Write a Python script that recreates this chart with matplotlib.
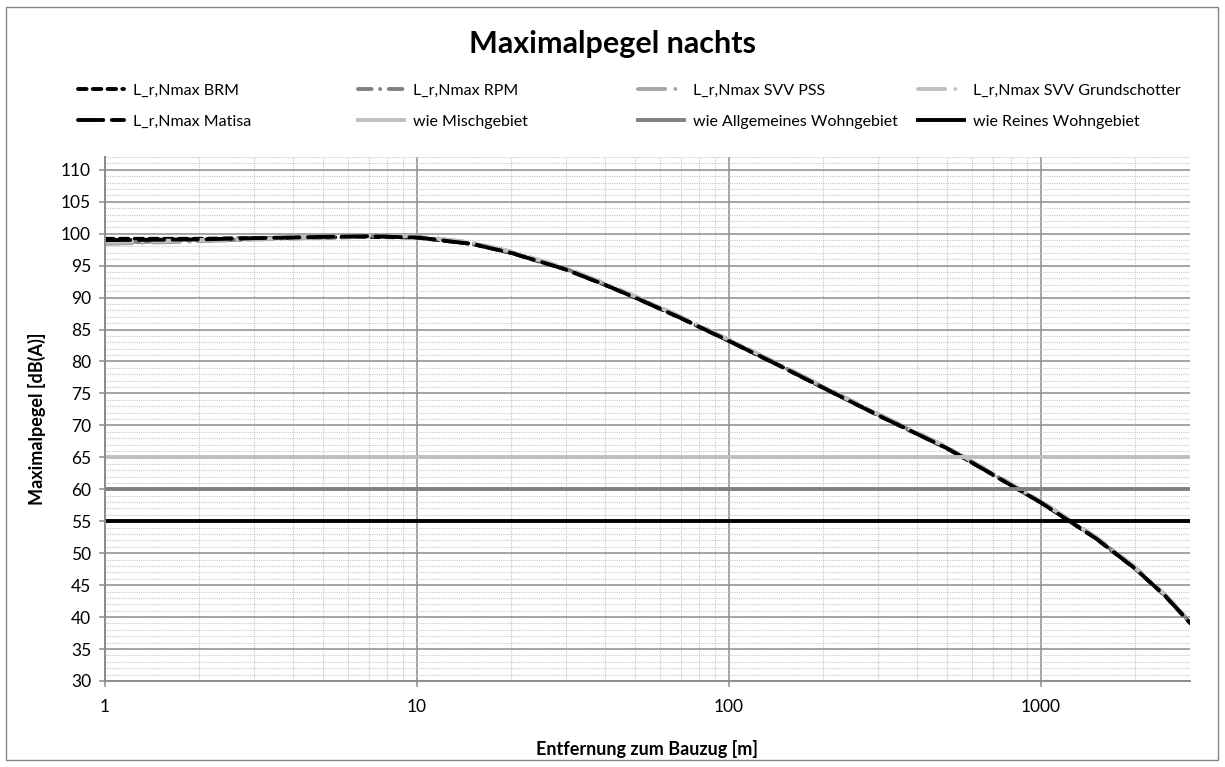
import matplotlib
matplotlib.use("Agg")
import matplotlib.pyplot as plt
from matplotlib.patches import Rectangle
from matplotlib.ticker import FixedLocator, NullFormatter, LogLocator

plt.rcParams['font.family'] = ['Lato', 'DejaVu Sans']

# distance to the construction train [m]
distance = [1, 2, 3, 5, 7, 10, 15, 20, 30, 40, 50, 70, 100, 150, 200,
            300, 500, 700, 1000, 1500, 2000, 2500, 3000]

# maximum levels [dB(A)] per machine
lr_brm = [99.2, 99.2, 99.3, 99.4, 99.5, 99.4, 98.4, 97.0, 94.4, 92.0, 90.0, 86.8, 83.2,
          79.0, 75.9, 71.6, 66.4, 62.3, 57.9, 52.3, 47.6, 43.3, 39.1]
lr_rpm = [98.6, 98.9, 99.1, 99.4, 99.6, 99.5, 98.5, 97.1, 94.5, 92.1, 90.1, 86.9, 83.3,
          79.1, 76.0, 71.7, 66.5, 62.4, 58.0, 52.4, 47.7, 43.4, 39.2]
lr_svv_pss = [98.4, 98.8, 99.1, 99.4, 99.6, 99.6, 98.6, 97.2, 94.6, 92.2, 90.2, 87.0, 83.4,
              79.2, 76.1, 71.8, 66.6, 62.5, 58.1, 52.5, 47.8, 43.5, 39.3]
lr_svv_grund = [98.7, 99.0, 99.2, 99.5, 99.7, 99.6, 98.6, 97.2, 94.6, 92.2, 90.2, 87.0, 83.4,
                79.2, 76.1, 71.8, 66.6, 62.5, 58.1, 52.5, 47.8, 43.5, 39.3]
lr_matisa = [99.0, 99.1, 99.3, 99.5, 99.6, 99.4, 98.4, 97.0, 94.4, 92.0, 90.0, 86.8, 83.2,
             79.0, 75.9, 71.6, 66.4, 62.3, 57.9, 52.3, 47.6, 43.3, 39.1]

# limit values
limit_labels = ['wie Mischgebiet', 'wie Allgemeines Wohngebiet', 'wie Reines Wohngebiet']
limit_values = [65, 60, 55]

x_range = [1, 3000]
y_ticks = list(range(30, 111, 5))

fig = plt.figure(figsize=(12.25, 7.67), dpi=100)
W, H = 1225, 767
ax = fig.add_axes([105 / W, 1 - 681 / H, (1190 - 105) / W, (681 - 157) / H])

handles = []
lw = 2.8
h, = ax.plot(distance, lr_brm, color='black', lw=lw, dashes=(2.2, 1.6),
             dash_capstyle='round', label='L_r,Nmax BRM')
handles.append(h)
h, = ax.plot(distance, lr_rpm, color='#7f7f7f', lw=lw, dashes=(3.5, 2.2, 0.01, 2.2),
             dash_capstyle='round', label='L_r,Nmax RPM')
handles.append(h)
h, = ax.plot(distance, lr_svv_pss, color='#a6a6a6', lw=lw, dashes=(7, 2.6, 0.01, 2.6),
             dash_capstyle='round', label='L_r,Nmax SVV PSS')
handles.append(h)
h, = ax.plot(distance, lr_svv_grund, color='#c0c0c0', lw=lw, dashes=(7, 2.6, 0.01, 2.6),
             dash_capstyle='round', label='L_r,Nmax SVV Grundschotter')
handles.append(h)
h, = ax.plot(distance, lr_matisa, color='black', lw=lw, dashes=(6.5, 2.2),
             dash_capstyle='round', label='L_r,Nmax Matisa')
handles.append(h)

limit_colors = ['#bfbfbf', '#808080', 'black']
for lab, val, col in zip(limit_labels, limit_values, limit_colors):
    h, = ax.plot(x_range, [val, val], color=col, lw=2.8, label=lab)
    handles.append(h)

ax.set_xscale('log')
ax.set_xlim(x_range)
ax.set_ylim(30, 112)
ax.set_yticks(y_ticks)
ax.xaxis.set_major_locator(FixedLocator([1, 10, 100, 1000]))
ax.set_xticklabels(['1', '10', '100', '1000'])
ax.xaxis.set_minor_locator(LogLocator(base=10, subs=range(2, 10)))
ax.xaxis.set_minor_formatter(NullFormatter())
ax.yaxis.set_minor_locator(FixedLocator([v for v in range(30, 113) if v % 5 != 0]))

grid_col = '#8c8c8c'
ax.grid(which='major', color=grid_col, lw=1.1)
ax.grid(which='minor', color='#c8c8c8', lw=0.8, linestyle=(0, (1, 1)))
ax.set_axisbelow(True)

for s in ['top', 'right']:
    ax.spines[s].set_visible(False)
for s in ['left', 'bottom']:
    ax.spines[s].set_color(grid_col)
    ax.spines[s].set_linewidth(1.4)

ax.tick_params(which='major', length=4, width=1.1, color=grid_col, labelsize=12.5)
ax.tick_params(axis='y', which='major', pad=6)
ax.tick_params(axis='x', which='major', pad=9)
ax.tick_params(which='minor', length=0)

ax.set_xlabel('Entfernung zum Bauzug [m]', fontsize=13, fontweight='bold')
ax.set_ylabel('Maximalpegel [dB(A)]', fontsize=13, fontweight='bold')
ax.xaxis.set_label_coords(0.5, -(740 - 681) / (681 - 157))
ax.yaxis.set_label_coords(-(105 - 46) / (1190 - 105), 0.5)

fig.suptitle('Maximalpegel nachts', x=0.5, y=1 - 44 / H, va='center',
             fontsize=22, fontweight='bold')

# legend: four evenly spaced columns of two entries, like the spreadsheet
col_x = [78, 358, 638, 918]
for i, cx in enumerate(col_x):
    leg = fig.legend(handles=[handles[i], handles[i + 4]], loc='center left',
                     bbox_to_anchor=(cx / W, 1 - 106 / H), frameon=False,
                     fontsize=11.5, handlelength=2.9, handletextpad=0.55,
                     labelspacing=1.05, borderpad=0, borderaxespad=0)

fig.patches.append(Rectangle((6 / W, 1 - 760 / H), (1218 - 6) / W, (760 - 7) / H,
                             transform=fig.transFigure, fill=False,
                             ec='#868686', lw=1))

fig.savefig('out.png', dpi=100)
